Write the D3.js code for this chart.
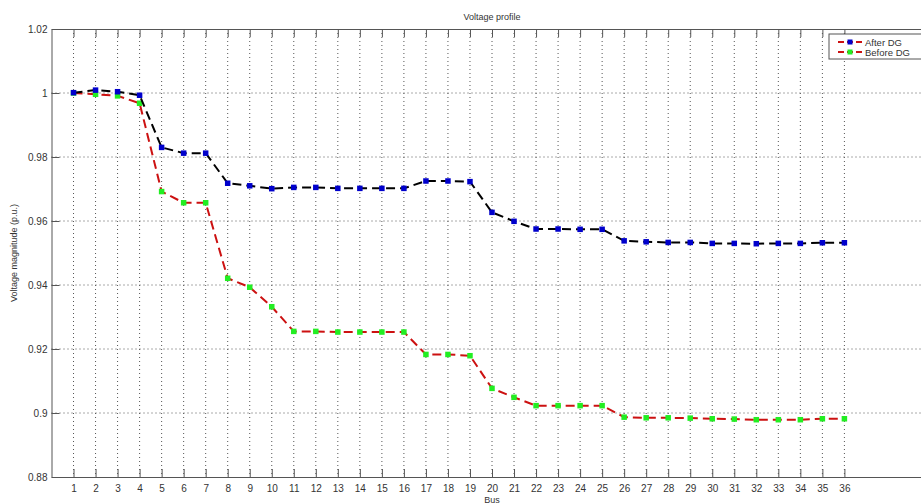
<!DOCTYPE html>
<html>
<head>
<meta charset="utf-8">
<script src="https://cdn.jsdelivr.net/npm/d3@7"></script>
<style>
  body { margin: 0; background: #fff; }
  text { font-family: "Liberation Sans", Arial, sans-serif; fill: #333; }
</style>
</head>
<body>
<div id="chart"></div>
<script>
// bus numbers and voltage magnitudes (p.u.)
var buses = d3.range(1, 37);
var afterDG = [1.0001, 1.0009, 1.0004, 0.9993, 0.9830, 0.9812, 0.9812, 0.9718, 0.9710, 0.9701,
               0.9705, 0.9705, 0.9702, 0.9702, 0.9702, 0.9702, 0.9725, 0.9725, 0.9723, 0.9627,
               0.9599, 0.9575, 0.9575, 0.9574, 0.9574, 0.9538, 0.9535, 0.9533, 0.9533, 0.9530,
               0.9530, 0.9529, 0.9530, 0.9530, 0.9532, 0.9532];
var beforeDG = [1.0000, 0.9996, 0.9991, 0.9968, 0.9692, 0.9657, 0.9657, 0.9421, 0.9393, 0.9332,
                0.9255, 0.9255, 0.9253, 0.9253, 0.9253, 0.9253, 0.9183, 0.9183, 0.9179, 0.9077,
                0.9049, 0.9023, 0.9023, 0.9023, 0.9023, 0.8987, 0.8985, 0.8985, 0.8984, 0.8982,
                0.8981, 0.8979, 0.8979, 0.8979, 0.8982, 0.8982];
var yTicks = [0.88, 0.9, 0.92, 0.94, 0.96, 0.98, 1, 1.02];

(function() {
  var width = 921, height = 504;
  var m = {left: 51.5, right: 932.5, top: 29, bottom: 477};

  var svg = d3.select("#chart").append("svg")
    .attr("width", width)
    .attr("height", height);

  var x = d3.scaleLinear().domain([0, 40]).range([m.left, m.right]);
  var y = d3.scaleLinear().domain([0.88, 1.02]).range([m.bottom, m.top]);

  // dotted grid
  svg.append("g").selectAll("line").data(buses).join("line")
    .attr("x1", d => x(d)).attr("x2", d => x(d))
    .attr("y1", m.top).attr("y2", m.bottom)
    .attr("stroke", "#555").attr("stroke-width", 1)
    .attr("stroke-dasharray", "1,3");
  svg.append("g").selectAll("line").data(yTicks.slice(1, -1)).join("line")
    .attr("x1", m.left).attr("x2", m.right)
    .attr("y1", d => y(d)).attr("y2", d => y(d))
    .attr("stroke", "#555").attr("stroke-width", 1)
    .attr("stroke-dasharray", "1,3");

  // axes box with inward ticks
  var fmt = d => String(+d.toFixed(2));
  svg.append("g")
    .attr("transform", `translate(0,${m.bottom})`)
    .call(d3.axisBottom(x).tickValues(buses).tickSize(-8).tickPadding(6).tickSizeOuter(0))
    .call(g => g.selectAll("text").attr("font-size", 10).attr("dy", "0.9em"));
  svg.append("g")
    .attr("transform", `translate(0,${m.top})`)
    .call(d3.axisTop(x).tickValues(buses).tickSize(-8).tickSizeOuter(0))
    .call(g => g.selectAll("text").remove());
  svg.append("g")
    .attr("transform", `translate(${m.left},0)`)
    .call(d3.axisLeft(y).tickValues(yTicks).tickFormat(fmt).tickSize(-8).tickPadding(4).tickSizeOuter(0))
    .call(g => g.selectAll("text").attr("font-size", 10));
  svg.selectAll(".domain, .tick line").attr("stroke", "#555");

  // series
  var line = d3.line().x((d, i) => x(buses[i])).y(d => y(d));
  var series = [
    {name: "Before DG", values: beforeDG, stroke: "#cc1111", marker: "#22ee22"},
    {name: "After DG", values: afterDG, stroke: "#000", marker: "#0000cc"}
  ];
  series.forEach(function(s) {
    svg.append("path")
      .datum(s.values)
      .attr("d", line)
      .attr("fill", "none")
      .attr("stroke", s.stroke)
      .attr("stroke-width", 2)
      .attr("stroke-dasharray", "9,5");
    svg.append("g").selectAll("rect").data(s.values).join("rect")
      .attr("x", (d, i) => x(buses[i]) - 2.75)
      .attr("y", d => y(d) - 2.75)
      .attr("width", 5.5).attr("height", 5.5)
      .attr("fill", s.marker);
  });

  // labels
  svg.append("text").attr("x", (m.left + m.right) / 2).attr("y", 20)
    .attr("text-anchor", "middle").attr("font-size", 9).text("Voltage profile");
  svg.append("text").attr("x", (m.left + m.right) / 2).attr("y", 503)
    .attr("text-anchor", "middle").attr("font-size", 9).text("Bus");
  svg.append("text")
    .attr("transform", `translate(17,${(m.top + m.bottom) / 2}) rotate(-90)`)
    .attr("text-anchor", "middle").attr("font-size", 9).text("Voltage magnitude (p.u.)");

  // legend
  var legend = svg.append("g").attr("transform", "translate(829,34)");
  legend.append("rect").attr("width", 110).attr("height", 25)
    .attr("fill", "#fff").attr("stroke", "#555");
  var legendItems = [
    {name: "After DG", marker: "#0000cc"},
    {name: "Before DG", marker: "#22ee22"}
  ];
  legendItems.forEach(function(item, i) {
    var yy = 8 + i * 10;
    legend.append("line").attr("x1", 9).attr("x2", 33).attr("y1", yy).attr("y2", yy)
      .attr("stroke", "#cc1111").attr("stroke-width", 2).attr("stroke-dasharray", "6,3");
    legend.append("rect").attr("x", 18.5).attr("y", yy - 2.5).attr("width", 5).attr("height", 5)
      .attr("fill", item.marker);
    legend.append("text").attr("x", 36).attr("y", yy + 3.5)
      .attr("font-size", 9.5).text(item.name);
  });
})();
</script>
</body>
</html>
